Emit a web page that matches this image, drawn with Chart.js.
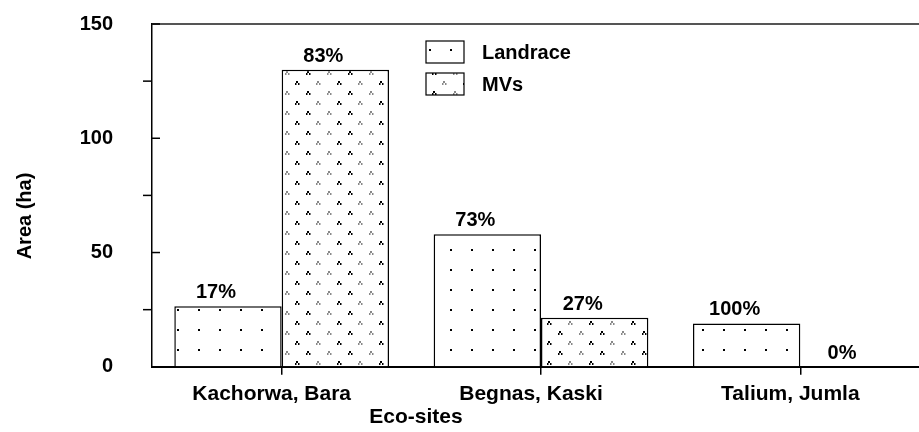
<!DOCTYPE html>
<html>
<head>
<meta charset="utf-8">
<script src="https://cdn.jsdelivr.net/npm/chart.js@4.4.1/dist/chart.umd.min.js"></script>
<style>
  html, body { margin: 0; padding: 0; background: #fff; overflow: hidden; }
  #wrap { width: 930px; height: 432px; }
</style>
</head>
<body>
<div id="wrap"><canvas id="ecoChart" width="930" height="432"></canvas></div>
<script>
// data
const sites = ['Kachorwa, Bara', 'Begnas, Kaski', 'Talium, Jumla'];
const landraceArea = [26.5, 58, 19];
const mvArea = [130, 21.5, 0];
const landracePct = ['17%', '73%', '100%'];
const mvPct = ['83%', '27%', '0%'];
const yMajorTicks = [0, 50, 100, 150];
const yMinorTicks = [25, 75, 125];

const FONT = '"Liberation Sans", Arial, sans-serif';
const PLOT_TOP = 24;
const PLOT_BOTTOM = 367;

// sparse dots for landrace
function makeDotPattern() {
    const c = document.createElement('canvas');
    c.width = 21;
    c.height = 20;
    const g = c.getContext('2d');
    g.fillStyle = '#fff';
    g.fillRect(0, 0, 21, 20);
    g.fillStyle = '#000';
    g.fillRect(9, 9, 2, 2);
    return g.createPattern(c, 'repeat');
}

function tri(g, x, y, color) {
    g.fillStyle = color;
    g.fillRect(x + 1, y, 2, 2);
    g.fillRect(x, y + 2, 1.5, 2);
    g.fillRect(x + 3, y + 2, 1.5, 2);
}

// black / grey little triangles for MVs
function makeTriPattern() {
    const c = document.createElement('canvas');
    c.width = 42;
    c.height = 20;
    const g = c.getContext('2d');
    g.fillStyle = '#fff';
    g.fillRect(0, 0, 42, 20);
    tri(g, 1, 1, '#000');
    tri(g, 22, 1, '#888');
    tri(g, 12, 11, '#000');
    tri(g, 33, 11, '#888');
    return g.createPattern(c, 'repeat');
}

const dotFill = makeDotPattern();
const triFill = makeTriPattern();

const framePlugin = {
    id: 'frame',
    afterDraw(chart) {
        const ctx = chart.ctx;
        const area = chart.chartArea;
        const y = chart.scales.y;
        ctx.save();
        // top line
        ctx.strokeStyle = '#555';
        ctx.lineWidth = 2;
        ctx.beginPath();
        ctx.moveTo(area.left, area.top);
        ctx.lineTo(area.right, area.top);
        ctx.stroke();
        // ticks on the value axis
        ctx.strokeStyle = '#000';
        ctx.lineWidth = 1.5;
        yMajorTicks.forEach(v => {
            const py = y.getPixelForValue(v);
            ctx.beginPath();
            ctx.moveTo(area.left, py);
            ctx.lineTo(area.left + 8, py);
            ctx.stroke();
        });
        yMinorTicks.forEach(v => {
            const py = y.getPixelForValue(v);
            ctx.beginPath();
            ctx.moveTo(area.left - 9, py);
            ctx.lineTo(area.left, py);
            ctx.stroke();
        });
        ctx.restore();
    }
};

const pctPlugin = {
    id: 'pctLabels',
    afterDatasetsDraw(chart) {
        const ctx = chart.ctx;
        const labels = [landracePct, mvPct];
        ctx.save();
        ctx.fillStyle = '#000';
        ctx.font = 'bold 20px ' + FONT;
        ctx.textAlign = 'center';
        ctx.textBaseline = 'alphabetic';
        chart.data.datasets.forEach((ds, i) => {
            chart.getDatasetMeta(i).data.forEach((bar, j) => {
                ctx.fillText(labels[i][j], bar.x - 12, bar.y - 8);
            });
        });
        ctx.restore();
    }
};

const legendPlugin = {
    id: 'boxLegend',
    afterDraw(chart) {
        const ctx = chart.ctx;
        const items = [
            { text: 'Landrace', fill: dotFill, y: 41 },
            { text: 'MVs', fill: triFill, y: 73 }
        ];
        ctx.save();
        ctx.font = 'bold 20px ' + FONT;
        ctx.textBaseline = 'middle';
        ctx.textAlign = 'left';
        items.forEach(it => {
            ctx.fillStyle = it.fill;
            ctx.fillRect(426, it.y, 38, 22);
            ctx.strokeStyle = '#000';
            ctx.lineWidth = 1.2;
            ctx.strokeRect(426, it.y, 38, 22);
            ctx.fillStyle = '#000';
            ctx.fillText(it.text, 482, it.y + 12);
        });
        ctx.restore();
    }
};

const titlePlugin = {
    id: 'axisTitles',
    afterDraw(chart) {
        const ctx = chart.ctx;
        ctx.save();
        ctx.fillStyle = '#000';
        ctx.font = 'bold 21px ' + FONT;
        ctx.textAlign = 'center';
        ctx.textBaseline = 'middle';
        ctx.fillText('Eco-sites', 416, 417);
        ctx.font = 'bold 20px ' + FONT;
        ctx.translate(25, 216);
        ctx.rotate(-Math.PI / 2);
        ctx.fillText('Area (ha)', 0, 0);
        ctx.restore();
    }
};

const ctx = document.getElementById('ecoChart').getContext('2d');
const chart = new Chart(ctx, {
    type: 'bar',
    data: {
        labels: sites,
        datasets: [{
            label: 'Landrace',
            data: landraceArea,
            backgroundColor: dotFill,
            borderColor: '#000',
            borderWidth: 1.5,
            categoryPercentage: 0.828,
            barPercentage: 1
        }, {
            label: 'MVs',
            data: mvArea,
            backgroundColor: triFill,
            borderColor: '#000',
            borderWidth: 1.5,
            categoryPercentage: 0.828,
            barPercentage: 1
        }]
    },
    options: {
        responsive: false,
        animation: false,
        layout: { padding: { top: 24, left: 0, right: 0, bottom: 18 } },
        plugins: {
            legend: { display: false },
            tooltip: { enabled: false }
        },
        scales: {
            x: {
                grid: {
                    display: true,
                    drawOnChartArea: false,
                    offset: false,
                    tickLength: 8,
                    color: '#000',
                    lineWidth: 1.5
                },
                border: { color: '#000', width: 2 },
                ticks: {
                    color: '#000',
                    font: { family: FONT, size: 21, weight: 'bold' },
                    padding: 7,
                    labelOffset: -10,
                    maxRotation: 0,
                    autoSkip: false
                }
            },
            y: {
                min: 0,
                max: 150,
                ticks: {
                    stepSize: 50,
                    padding: 1,
                    color: '#000',
                    font: { family: FONT, size: 20, weight: 'bold' }
                },
                // invisible long ticks push the labels away from the axis
                // (a big ticks.padding would also pad the top of the plot)
                grid: {
                    drawOnChartArea: false,
                    drawTicks: true,
                    tickLength: 38,
                    tickColor: 'rgba(0,0,0,0)'
                },
                border: { color: '#000', width: 1.5 },
                afterFit: function (scale) {
                    scale.width = 152;
                }
            }
        }
    },
    plugins: [framePlugin, pctPlugin, legendPlugin, titlePlugin]
});

// small correction so the plot box lands on the reference frame
for (let i = 0; i < 3; i++) {
    const pad = chart.options.layout.padding;
    const dTop = PLOT_TOP - chart.chartArea.top;
    const dBottom = chart.chartArea.bottom - PLOT_BOTTOM;
    if (Math.abs(dTop) < 0.5 && Math.abs(dBottom) < 0.5) break;
    pad.top += dTop;
    pad.bottom += dBottom;
    chart.update();
}
</script>
</body>
</html>
